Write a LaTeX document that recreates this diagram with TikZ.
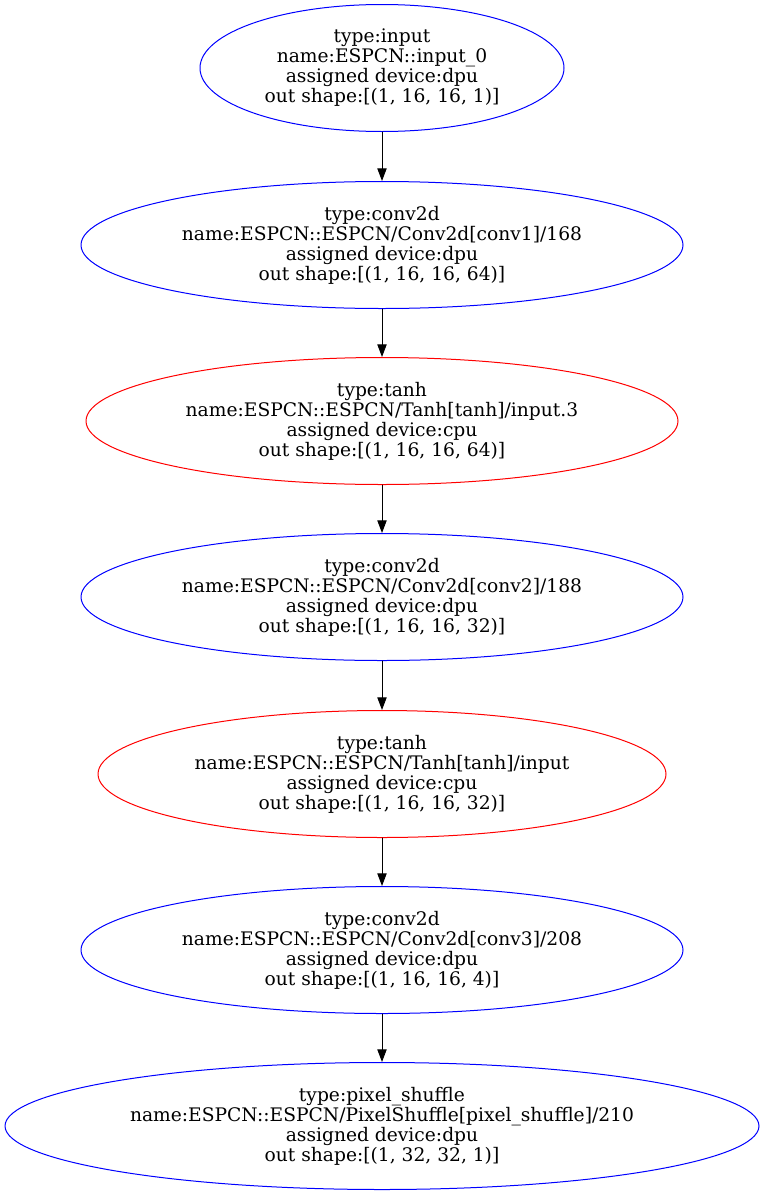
\documentclass[tikz,border=0pt]{standalone}
\usepackage{fontspec}
\setmainfont{DejaVu Serif}
\usetikzlibrary{arrows.meta}
\usetikzlibrary{shapes.geometric}
\begin{document}
\begin{tikzpicture}[line cap=round,line join=round,x=0.75pt,y=-0.75pt]
\tikzset{
  opnode/.style={draw,ellipse,line width=0.75pt,inner sep=0pt,minimum height=95.25pt,align=center,font=\fontsize{14}{15}\selectfont},
  dpunode/.style={opnode,color=blue,text=black},
  cpunode/.style={opnode,color=red,text=black},
  flow/.style={-{Triangle[length=9.5pt,width=7pt]},line width=0.75pt,black}
}
\useasboundingbox (0,0) rectangle (765,1196);
\node[dpunode,minimum width=273pt] (input0) at (382,68) {type:input\\name:ESPCN::input\_0\\assigned device:dpu\\out shape:[(1, 16, 16, 1)]};
\node[dpunode,minimum width=451.5pt] (conv1) at (382,245) {type:conv2d\\name:ESPCN::ESPCN/Conv2d[conv1]/168\\assigned device:dpu\\out shape:[(1, 16, 16, 64)]};
\node[cpunode,minimum width=444pt] (tanh1) at (382,421) {type:tanh\\name:ESPCN::ESPCN/Tanh[tanh]/input.3\\assigned device:cpu\\out shape:[(1, 16, 16, 64)]};
\node[dpunode,minimum width=451.5pt] (conv2) at (382,597) {type:conv2d\\name:ESPCN::ESPCN/Conv2d[conv2]/188\\assigned device:dpu\\out shape:[(1, 16, 16, 32)]};
\node[cpunode,minimum width=426pt] (tanh2) at (382,774) {type:tanh\\name:ESPCN::ESPCN/Tanh[tanh]/input\\assigned device:cpu\\out shape:[(1, 16, 16, 32)]};
\node[dpunode,minimum width=451.5pt] (conv3) at (382,950) {type:conv2d\\name:ESPCN::ESPCN/Conv2d[conv3]/208\\assigned device:dpu\\out shape:[(1, 16, 16, 4)]};
\node[dpunode,minimum width=565.5pt] (shuffle) at (382,1126) {type:pixel\_shuffle\\name:ESPCN::ESPCN/PixelShuffle[pixel\_shuffle]/210\\assigned device:dpu\\out shape:[(1, 32, 32, 1)]};
% edges
\draw[flow] (input0) -- (conv1);
\draw[flow] (conv1) -- (tanh1);
\draw[flow] (tanh1) -- (conv2);
\draw[flow] (conv2) -- (tanh2);
\draw[flow] (tanh2) -- (conv3);
\draw[flow] (conv3) -- (shuffle);
\end{tikzpicture}
\end{document}
